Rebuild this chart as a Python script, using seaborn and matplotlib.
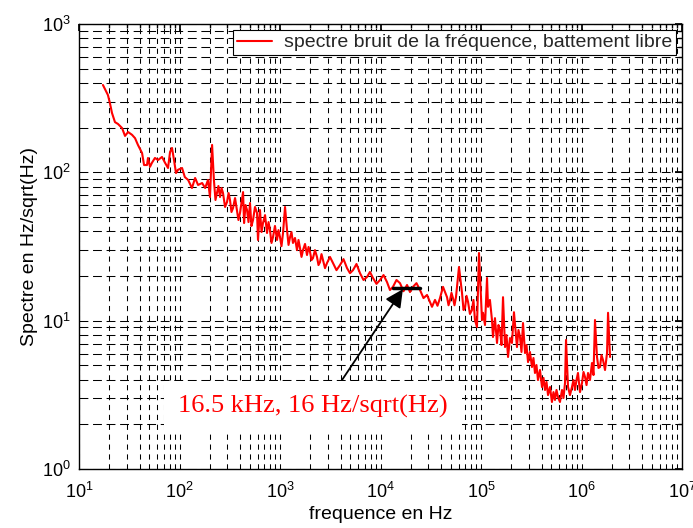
import numpy as np
import matplotlib
matplotlib.use('Agg')
import matplotlib.pyplot as plt
from matplotlib.ticker import LogLocator, NullFormatter
import seaborn as sns


# ── data (frequency in Hz, spectrum in Hz/sqrt(Hz)) ──
# low band: 17 Hz - 200 Hz
freq_low = [
    17.3, 19.4, 20.3, 21.3, 22.8, 24.4, 26.8, 28.7, 30.8, 33.7,
    36.1, 38.6, 42.4, 44.4, 47.5, 48.6, 50.9, 53.2, 57.0, 61.1,
    67.0, 71.8, 76.9, 80.5, 84.2, 88.2, 92.3, 96.6, 106, 113,
    122, 133, 143, 153, 168, 180, 192,
]
spec_low = [
    388, 332, 293, 251, 218, 212, 199, 176, 187, 179,
    170, 153, 135, 112, 112, 125, 109, 116, 125, 121,
    127, 116, 107, 137, 146, 121, 98.9, 104, 107, 92.9,
    88.8, 78.4, 91.6, 82.2, 84.7, 78.4, 88.8,
]

# mid band: 200 Hz - 57 kHz
freq_mid = [
    201, 211, 220, 228, 236, 244, 253, 262, 271, 284,
    297, 308, 318, 329, 341, 357, 373, 386, 400, 414,
    429, 439, 454, 470, 486, 503, 520, 539, 564, 591,
    604, 632, 655, 677, 710, 743, 769, 795, 823, 852,
    891, 934, 966, 1000, 1035, 1072, 1122, 1175, 1216, 1259,
    1301, 1346, 1410, 1476, 1528, 1581, 1637, 1694, 1774, 1857,
    1923, 1991, 2058, 2128, 2228, 2333, 2415, 2500, 2588, 2679,
    2805, 2938, 3143, 3365, 3648, 3955, 4285, 4645, 4970, 5324,
    5768, 6252, 6776, 7345, 7855, 8414, 9120, 9886, 10720, 11610,
    12420, 13300, 14420, 15630, 16940, 18370, 19650, 21040, 22800, 24720,
    26790, 29040, 32540, 34860, 36900, 39090, 41880, 45920, 47530, 49200,
    50840, 52600, 54480, 56360,
]
spec_mid = [
    68.2, 153, 88.8, 65.1, 72.5, 80.9, 68.2, 78.4, 72.5, 58.4,
    63.1, 72.5, 65.1, 54.0, 57.5, 67.1, 55.7, 47.7, 53.2, 62.1,
    73.6, 45.5, 60.2, 55.7, 46.2, 62.1, 43.5, 47.7, 58.4, 53.2,
    35.0, 55.7, 39.6, 45.5, 51.5, 39.0, 46.2, 40.8, 33.4, 36.6,
    43.5, 35.0, 40.8, 36.6, 31.8, 39.0, 58.4, 40.8, 32.4, 36.6,
    39.6, 33.4, 36.1, 29.9, 35.0, 30.9, 26.9, 29.9, 32.9, 27.7,
    31.4, 29.0, 25.6, 26.4, 29.9, 26.9, 23.7, 24.8, 28.1, 25.6,
    22.6, 24.5, 26.9, 24.5, 21.9, 23.7, 26.0, 22.6, 20.9, 21.9,
    24.1, 20.9, 18.8, 19.7, 21.3, 19.4, 17.7, 18.8, 20.3, 18.2,
    16.1, 16.9, 18.8, 17.9, 15.8, 17.4, 15.6, 16.9, 17.9, 16.1,
    14.2, 14.9, 12.4, 13.8, 12.6, 14.2, 16.9, 14.4, 12.7, 13.8,
    15.4, 14.2, 12.7, 14.4,
]

# high band: 60 kHz - 2 MHz
freq_high = [
    60390, 64710, 66990, 69340, 71780, 74300, 77620, 81300, 84140, 87100,
    91200, 95500, 102300, 104700, 109600, 114800, 117500, 122700, 128600, 131600,
    137700, 144300, 149300, 154600, 159900, 165600, 173400, 179400, 185800, 194200,
    203200, 212800, 228000, 235900, 244300, 252800, 261800, 274200, 283600, 293800,
    306900, 321400, 332600, 344400, 356400, 369000, 386200, 404600, 418800, 433500,
    448700, 464500, 485800, 508200, 526300, 544500, 563700, 583400, 610500, 639700,
    661700, 685400, 701400, 734500, 767700, 803500, 832500, 861000, 891600, 922500,
    966000, 1012000, 1047000, 1084000, 1122000, 1161000, 1215000, 1271000, 1316000, 1362000,
    1426000, 1476000, 1528000, 1581000, 1637000, 1714000, 1795000, 1837000, 1923000,
]
spec_high = [
    23.0, 15.4, 11.8, 12.2, 14.7, 13.4, 11.1, 11.8, 13.8, 10.1,
    9.06, 28.6, 10.1, 11.3, 9.35, 19.4, 12.4, 13.8, 10.1, 7.76,
    10.4, 7.07, 9.35, 8.65, 6.85, 14.4, 6.64, 8.00, 5.69, 7.64,
    7.07, 11.4, 6.64, 8.65, 7.76, 6.15, 9.64, 6.05, 6.85, 5.26,
    6.15, 4.87, 5.60, 4.44, 5.02, 3.98, 4.65, 3.57, 4.11, 3.41,
    3.86, 3.15, 3.57, 2.83, 3.30, 2.92, 3.41, 3.06, 2.83, 3.41,
    3.01, 3.80, 7.41, 3.57, 3.15, 3.57, 3.98, 3.41, 3.98, 4.44,
    3.30, 3.80, 4.51, 4.17, 3.68, 4.44, 3.98, 5.18, 4.30, 10.1,
    5.69, 4.80, 4.87, 5.86, 5.43, 4.65, 6.05, 11.3, 5.69,
]

# marked point 16.5 kHz, 16 Hz/sqrt(Hz)
mark_freq = [13300, 24700]
mark_level = [16.6, 16.6]
arrow_tip = (16700, 16.3)
arrow_tail = (4140, 3.98)
label_pos = (2130, 2.62)
label_text = '16.5 kHz, 16 Hz/sqrt(Hz)'
legend_text = 'spectre bruit de la fréquence, battement libre'

freq = freq_low + freq_mid + freq_high
spec = spec_low + spec_mid + spec_high
assert len(freq) == len(spec)


sns.set_theme(style='white')
plt.rcParams['font.family'] = ['Liberation Sans', 'DejaVu Sans']

fig = plt.figure(figsize=(6.93, 5.28), dpi=100)
ax = fig.add_axes([79 / 693, 1 - 469 / 528, 603 / 693, 445 / 528])
ax.set_xscale('log')
ax.set_yscale('log')

sns.lineplot(x=freq, y=spec, color='#ff0000', lw=1.5, sort=False,
             estimator=None, label=legend_text, ax=ax, zorder=3)

ax.set_xlim(1e1, 1e7)
ax.set_ylim(1e0, 1e3)
ax.xaxis.set_major_locator(LogLocator(base=10, numticks=10))
ax.yaxis.set_major_locator(LogLocator(base=10, numticks=10))
ax.xaxis.set_minor_locator(LogLocator(base=10, subs=np.arange(2, 10), numticks=100))
ax.yaxis.set_minor_locator(LogLocator(base=10, subs=np.arange(2, 10), numticks=100))
ax.xaxis.set_minor_formatter(NullFormatter())
ax.yaxis.set_minor_formatter(NullFormatter())

# matlab style dashed grid, major and minor alike
ax.xaxis.grid(True, which='both', color='black', lw=0.75, linestyle=(0, (5, 4.5)))
ax.yaxis.grid(True, which='both', color='black', lw=0.75, linestyle=(0, (8.5, 4.5)))
ax.set_axisbelow(True)

for s in ax.spines.values():
    s.set_color('black')
    s.set_linewidth(1.0)
ax.tick_params(which='both', direction='in', top=True, right=True, colors='black')
ax.tick_params(which='major', length=5, labelsize=13)
ax.tick_params(axis='x', which='major', pad=9)
ax.tick_params(axis='y', which='major', pad=6)
ax.tick_params(which='minor', length=3)

ax.set_xlabel('frequence en Hz', fontsize=14, color='black', labelpad=3)
ax.set_ylabel('Spectre en Hz/sqrt(Hz)', fontsize=14, color='black', labelpad=3)

# marker bar + arrow + label box
ax.plot(mark_freq, mark_level, color='black', lw=2.5, zorder=4)
ax.annotate('', xy=arrow_tip, xytext=arrow_tail, zorder=5,
            arrowprops=dict(arrowstyle='-|>,head_length=0.9,head_width=0.45',
                            color='black', lw=1.3, shrinkA=0, shrinkB=0))
ax.text(*label_pos, label_text, ha='center', va='center', color='#ff0000',
        fontsize=19, family=['Liberation Serif', 'DejaVu Serif'], zorder=6,
        bbox=dict(boxstyle='square,pad=0.55', fc='white', ec='none'))

leg = ax.legend(loc='upper right', fontsize=14, frameon=True, fancybox=False,
                framealpha=1, edgecolor='black', borderaxespad=0.3,
                handlelength=1.8, handletextpad=0.6, borderpad=0.2)
leg.get_frame().set_linewidth(0.8)
leg.set_zorder(7)

fig.savefig('out.png', dpi=100, facecolor='white')
